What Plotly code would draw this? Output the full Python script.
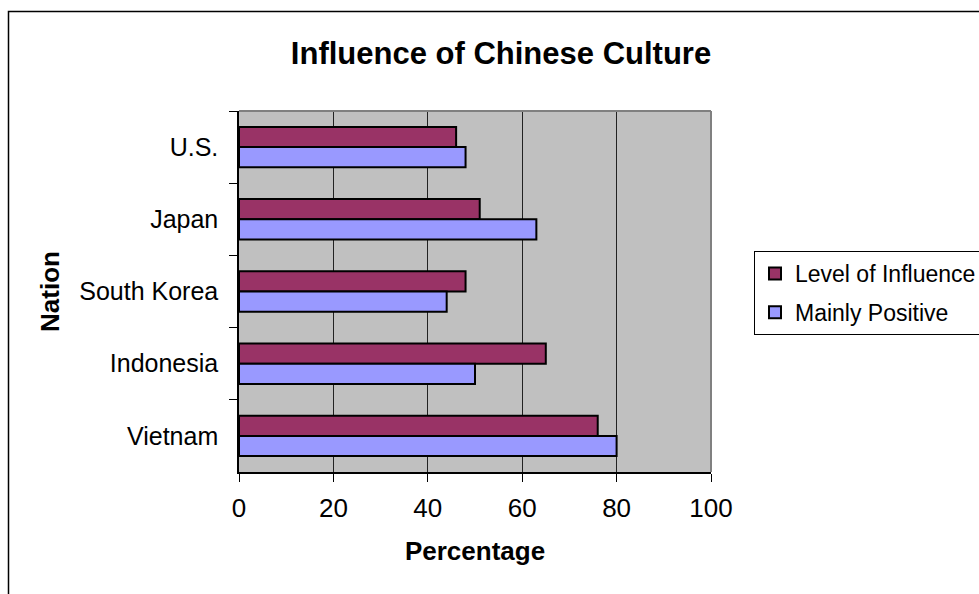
import plotly.graph_objects as go

# Survey results: share of respondents per nation (%)
nations = ["U.S.", "Japan", "South Korea", "Indonesia", "Vietnam"]
level_of_influence = [46, 51, 48, 65, 76]
mainly_positive = [48, 63, 44, 50, 80]
x_ticks = [0, 20, 40, 60, 80, 100]

FONT = "Liberation Sans, Arial, sans-serif"
W, H = 979, 594
ML, MR, MT, MB = 239, 268, 111, 122
PW, PH = W - ML - MR, H - MT - MB


def px_to_paper_x(px):
    return (px - ML) / PW


def px_to_paper_y(py):
    return (H - MB - py) / PH


fig = go.Figure()
fig.add_trace(go.Bar(
    y=nations, x=level_of_influence, orientation="h",
    name="Level of Influence", legendgroup="a",
    marker=dict(color="#993366", line=dict(color="black", width=2)),
))
fig.add_trace(go.Bar(
    y=nations, x=mainly_positive, orientation="h",
    name="Mainly Positive", legendgroup="b",
    marker=dict(color="#9999FF", line=dict(color="black", width=2)),
))

fig.update_layout(
    width=W, height=H, autosize=False,
    margin=dict(l=ML, r=MR, t=MT, b=MB, pad=0, autoexpand=False),
    paper_bgcolor="white", plot_bgcolor="#C0C0C0",
    font=dict(family=FONT, color="black", size=25),
    barmode="group", bargap=0.44, bargroupgap=0,
    title=dict(
        text="<b>Influence of Chinese Culture</b>",
        font=dict(size=31, family=FONT, color="black"),
        x=501 / W, xref="container", xanchor="center",
        y=1 - 53 / H, yref="container", yanchor="middle",
    ),
    legend=dict(
        x=px_to_paper_x(754), y=px_to_paper_y(251),
        xanchor="left", yanchor="top",
        bordercolor="black", borderwidth=1, bgcolor="white",
        font=dict(size=23, family=FONT, color="black"),
        traceorder="grouped", tracegroupgap=6,
    ),
    xaxis=dict(
        range=[0, 100], tickvals=x_ticks, ticktext=[str(v) for v in x_ticks],
        tickfont=dict(size=26),
        showgrid=True, gridcolor="#222222", gridwidth=1,
        showline=True, linecolor="black", linewidth=1.5,
        ticks="outside", ticklen=8, tickcolor="black", tickwidth=1,
        ticklabelstandoff=4, zeroline=False,
        title=dict(text="<b>Percentage</b>", standoff=20,
                   font=dict(size=26, family=FONT)),
        fixedrange=True,
    ),
    yaxis=dict(
        type="category", categoryorder="array", categoryarray=nations,
        autorange="reversed",
        showgrid=False, showline=True, linecolor="black", linewidth=1.5,
        ticks="outside", ticklen=8, tickcolor="black", tickwidth=1,
        tickson="boundaries", ticklabelstandoff=14,
        title=dict(text="<b>Nation</b>", standoff=12,
                   font=dict(size=26, family=FONT)),
        fixedrange=True,
    ),
    shapes=[
        # grey frame on the top and right of the plot area
        dict(type="line", xref="paper", yref="paper", x0=0, x1=1, y0=1, y1=1,
             line=dict(color="#808080", width=2), layer="above"),
        dict(type="line", xref="paper", yref="paper", x0=1, x1=1, y0=0, y1=1,
             line=dict(color="#808080", width=2), layer="above"),
        # outer chart frame
        dict(type="rect", xref="paper", yref="paper",
             x0=px_to_paper_x(8.5), x1=px_to_paper_x(W + 20),
             y0=px_to_paper_y(H + 20), y1=px_to_paper_y(11.5),
             line=dict(color="black", width=1.5), layer="above"),
    ],
)

fig.write_html("out.html")
